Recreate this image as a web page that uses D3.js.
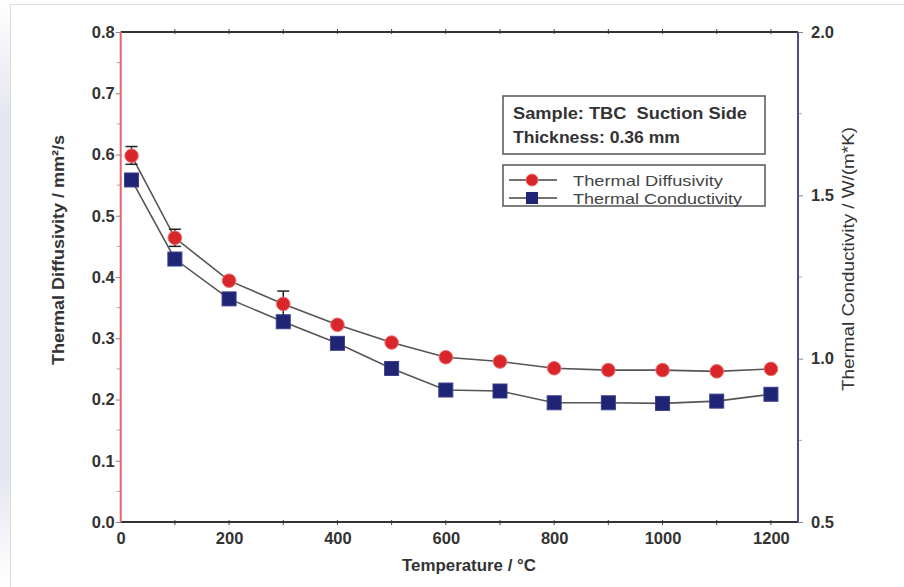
<!DOCTYPE html>
<html>
<head>
<meta charset="utf-8">
<script src="https://d3js.org/d3.v7.min.js"></script>
<style>
  body { margin: 0; background: #fff; }
  svg { display: block; font-family: "Liberation Sans", Arial, sans-serif; }
</style>
</head>
<body>
<div id="chart"></div>
<script>
// data
var temps        = [20, 100, 200, 300, 400, 500, 600, 700, 800, 900, 1000, 1100, 1200];
var diffusivity  = [0.598, 0.464, 0.394, 0.356, 0.322, 0.293, 0.269, 0.262, 0.251, 0.248, 0.248, 0.246, 0.250];
var diffErrHigh  = [0.613, 0.478, null, 0.377, null, null, null, null, null, null, null, null, null];
var diffErrLow   = [0.584, 0.450, null, 0.335, null, null, null, null, null, null, null, null, null];
var conductivity = [1.547, 1.305, 1.183, 1.113, 1.047, 0.970, 0.904, 0.901, 0.865, 0.865, 0.863, 0.870, 0.891];
var xTicks       = [0, 200, 400, 600, 800, 1000, 1200];
var yLeftTicks   = [0, 0.1, 0.2, 0.3, 0.4, 0.5, 0.6, 0.7, 0.8];
var yRightTicks  = [0.5, 1.0, 1.5, 2.0];
var infoLines    = ["Sample: TBC  Suction Side", "Thickness: 0.36 mm"];
var infoWidths   = [234, 167];
var seriesNames  = ["Thermal Diffusivity", "Thermal Conductivity"];
var seriesWidths = [150, 169];

var width = 904, height = 587;
var m = {left: 120.7, right: 798, top: 32, bottom: 522};

var svg = d3.select("#chart").append("svg")
    .attr("width", width)
    .attr("height", height);

// faint page frame + bluish strip on the left
var grad = svg.append("defs").append("linearGradient")
    .attr("id", "strip").attr("x1", 0).attr("x2", 0).attr("y1", 0).attr("y2", 1);
grad.append("stop").attr("offset", "0").attr("stop-color", "#fff");
grad.append("stop").attr("offset", "0.2").attr("stop-color", "#e4e6f0");
grad.append("stop").attr("offset", "0.8").attr("stop-color", "#e4e6f0");
grad.append("stop").attr("offset", "1").attr("stop-color", "#fff");
svg.append("rect").attr("x", 0).attr("y", 0).attr("width", 10).attr("height", height)
    .attr("fill", "url(#strip)");
svg.append("rect").attr("x", 10.5).attr("y", 4.5).attr("width", width).attr("height", height)
    .attr("fill", "#fff").attr("stroke", "#ddd");

var x = d3.scaleLinear().domain([0, 1250]).range([m.left, m.right]);
var yL = d3.scaleLinear().domain([0, 0.8]).range([m.bottom, m.top]);
var yR = d3.scaleLinear().domain([0.5, 2.0]).range([m.bottom, m.top]);

function styleLabels(g) {
  g.select(".domain").remove();
  g.selectAll("line").attr("stroke", "#888");
  g.selectAll("text").attr("font-size", 16.5).attr("font-weight", "bold").attr("fill", "#333")
      .attr("font-family", "Liberation Sans, Arial, sans-serif");
}

// bottom axis
svg.append("g").attr("transform", "translate(0," + m.bottom + ")")
    .call(d3.axisBottom(x).tickValues(xTicks).tickSize(0).tickPadding(10).tickFormat(d3.format("d")))
    .call(styleLabels);

var minorX = d3.range(100, 1250, 100);
svg.append("g").selectAll("line")
    .data(minorX)
    .join("line")
    .attr("x1", function(d) { return x(d); }).attr("x2", function(d) { return x(d); })
    .attr("y1", m.bottom - 2).attr("y2", m.bottom + 3)
    .attr("stroke", "#444").attr("stroke-width", 1);
svg.append("g").selectAll("line")
    .data(minorX)
    .join("line")
    .attr("x1", function(d) { return x(d); }).attr("x2", function(d) { return x(d); })
    .attr("y1", m.top - 3).attr("y2", m.top + 2)
    .attr("stroke", "#444").attr("stroke-width", 1);

// left axis
svg.append("g").attr("transform", "translate(" + m.left + ",0)")
    .call(d3.axisLeft(yL).tickValues(yLeftTicks).tickSize(5).tickPadding(1).tickFormat(d3.format(".1f")))
    .call(styleLabels);
svg.append("g").selectAll("line")
    .data(d3.range(0.05, 0.8, 0.1))
    .join("line")
    .attr("x1", m.left - 4).attr("x2", m.left)
    .attr("y1", function(d) { return yL(d); }).attr("y2", function(d) { return yL(d); })
    .attr("stroke", "#aaa");

// right axis
svg.append("g").attr("transform", "translate(" + m.right + ",0)")
    .call(d3.axisRight(yR).tickValues(yRightTicks).tickSize(5).tickPadding(8).tickFormat(d3.format(".1f")))
    .call(styleLabels);
svg.append("g").selectAll("line")
    .data([0.75, 1.25, 1.75])
    .join("line")
    .attr("x1", m.right).attr("x2", m.right + 4)
    .attr("y1", function(d) { return yR(d); }).attr("y2", function(d) { return yR(d); })
    .attr("stroke", "#aaa");

// frame lines
svg.append("line").attr("x1", m.left).attr("x2", m.right).attr("y1", m.top).attr("y2", m.top)
    .attr("stroke", "#333").attr("stroke-width", 2);
svg.append("line").attr("x1", m.left).attr("x2", m.right).attr("y1", m.bottom).attr("y2", m.bottom)
    .attr("stroke", "#333").attr("stroke-width", 2);
svg.append("line").attr("x1", m.left).attr("x2", m.left).attr("y1", m.top).attr("y2", m.bottom)
    .attr("stroke", "#e4666a").attr("stroke-width", 2);
svg.append("line").attr("x1", m.right).attr("x2", m.right).attr("y1", m.top).attr("y2", m.bottom)
    .attr("stroke", "#4a4c8c").attr("stroke-width", 2);

// axis titles
svg.append("text")
    .attr("transform", "translate(64,250) rotate(-90)")
    .attr("text-anchor", "middle").attr("font-size", 16).attr("font-weight", "bold").attr("fill", "#333")
    .attr("textLength", 230).attr("lengthAdjust", "spacingAndGlyphs")
    .text("Thermal Diffusivity / mm\u00b2/s");
svg.append("text")
    .attr("transform", "translate(854,259) rotate(-90)")
    .attr("text-anchor", "middle").attr("font-size", 16).attr("fill", "#333")
    .attr("textLength", 264).attr("lengthAdjust", "spacingAndGlyphs")
    .text("Thermal Conductivity / W/(m*K)");
svg.append("text")
    .attr("x", 469).attr("y", 571)
    .attr("text-anchor", "middle").attr("font-size", 16).attr("font-weight", "bold").attr("fill", "#333")
    .attr("textLength", 134).attr("lengthAdjust", "spacingAndGlyphs")
    .text("Temperature / \u00b0C");

// lines
var lineD = d3.line().x(function(d, i) { return x(temps[i]); }).y(function(d) { return yL(d); });
var lineC = d3.line().x(function(d, i) { return x(temps[i]); }).y(function(d) { return yR(d); });
svg.append("path").attr("d", lineD(diffusivity)).attr("fill", "none")
    .attr("stroke", "#555").attr("stroke-width", 1.6);
svg.append("path").attr("d", lineC(conductivity)).attr("fill", "none")
    .attr("stroke", "#555").attr("stroke-width", 1.6);

// error bars
var errIdx = temps.map(function(t, i) { return i; }).filter(function(i) { return diffErrHigh[i] != null; });
var eb = svg.append("g").attr("stroke", "#222").attr("stroke-width", 1.5);
eb.selectAll(".v").data(errIdx).join("line").attr("class", "v")
    .attr("x1", function(i) { return x(temps[i]); }).attr("x2", function(i) { return x(temps[i]); })
    .attr("y1", function(i) { return yL(diffErrHigh[i]); }).attr("y2", function(i) { return yL(diffErrLow[i]); });
eb.selectAll(".t").data(errIdx).join("line").attr("class", "t")
    .attr("x1", function(i) { return x(temps[i]) - 6; }).attr("x2", function(i) { return x(temps[i]) + 6; })
    .attr("y1", function(i) { return yL(diffErrHigh[i]); }).attr("y2", function(i) { return yL(diffErrHigh[i]); });
eb.selectAll(".b").data(errIdx).join("line").attr("class", "b")
    .attr("x1", function(i) { return x(temps[i]) - 6; }).attr("x2", function(i) { return x(temps[i]) + 6; })
    .attr("y1", function(i) { return yL(diffErrLow[i]); }).attr("y2", function(i) { return yL(diffErrLow[i]); });

// markers
svg.append("g").selectAll("rect")
    .data(conductivity)
    .join("rect")
    .attr("x", function(d, i) { return x(temps[i]) - 7; })
    .attr("y", function(d) { return yR(d) - 7; })
    .attr("width", 14).attr("height", 14)
    .attr("fill", "#1f2475").attr("stroke", "#3a3f8a").attr("stroke-width", 1);
svg.append("g").selectAll("circle")
    .data(diffusivity)
    .join("circle")
    .attr("cx", function(d, i) { return x(temps[i]); })
    .attr("cy", function(d) { return yL(d); })
    .attr("r", 6.8)
    .attr("fill", "#d8262b").attr("stroke", "#ee7070").attr("stroke-width", 1);

// info box
var info = svg.append("g");
info.append("rect").attr("x", 503).attr("y", 96).attr("width", 262).attr("height", 58)
    .attr("fill", "#fff").attr("stroke", "#555").attr("stroke-width", 1.5);
info.selectAll("text").data(infoLines).join("text")
    .attr("x", 513).attr("y", function(d, i) { return 118.5 + i * 24; })
    .attr("font-size", 16).attr("font-weight", "bold").attr("fill", "#333")
    .attr("textLength", function(d, i) { return infoWidths[i]; }).attr("lengthAdjust", "spacingAndGlyphs")
    .style("white-space", "pre")
    .text(function(d) { return d; });

// legend
var lg = svg.append("g");
lg.append("rect").attr("x", 503).attr("y", 165).attr("width", 262).attr("height", 41)
    .attr("fill", "#fff").attr("stroke", "#555").attr("stroke-width", 1.5);
var rows = lg.selectAll("g").data(seriesNames).join("g")
    .attr("transform", function(d, i) { return "translate(0," + (180 + i * 18) + ")"; });
rows.append("line").attr("x1", 509).attr("x2", 557).attr("y1", 0).attr("y2", 0)
    .attr("stroke", "#444").attr("stroke-width", 1.5);
rows.filter(function(d, i) { return i === 0; }).append("circle")
    .attr("cx", 532).attr("cy", 0).attr("r", 6).attr("fill", "#d8262b").attr("stroke", "#ee7070");
rows.filter(function(d, i) { return i === 1; }).append("rect")
    .attr("x", 526).attr("y", -6).attr("width", 12).attr("height", 12).attr("fill", "#1f2475");
rows.append("text").attr("x", 573).attr("y", 5.5)
    .attr("font-size", 15).attr("fill", "#444")
    .attr("textLength", function(d, i) { return seriesWidths[i]; }).attr("lengthAdjust", "spacingAndGlyphs")
    .text(function(d) { return d; });
</script>
</body>
</html>
